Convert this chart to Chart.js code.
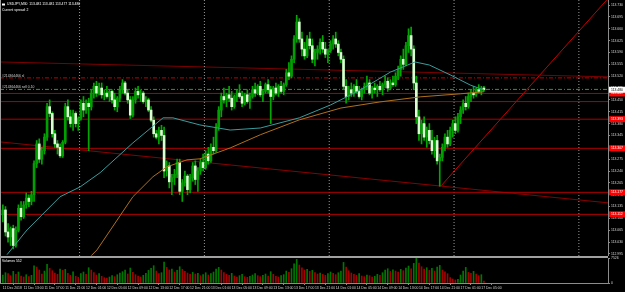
<!DOCTYPE html>
<html>
<head>
<meta charset="utf-8">
<script src="https://cdn.jsdelivr.net/npm/chart.js@4/dist/chart.umd.min.js"></script>
<style>
  body { margin: 0; background: #000; }
  #wrap { position: relative; width: 625px; height: 292px; background: #000; overflow: hidden; }
  canvas { position: absolute; left: 0; }
</style>
</head>
<body>
<div id="wrap">
  <canvas id="main" width="625" height="256" style="top:0"></canvas>
  <canvas id="vol" width="625" height="36" style="top:256px"></canvas>
</div>
<script>
// USDJPY M30, bars from 11 Dec 09:00 to 17 Dec 05:30
const opens = [
  113.110, 113.125, 113.060, 113.045, 113.070, 113.020, 113.065, 113.130, 113.105, 113.140,
  113.160, 113.150, 113.170, 113.262, 113.320, 113.275, 113.300, 113.340, 113.430, 113.410,
  113.350, 113.320, 113.310, 113.285, 113.325, 113.430, 113.400, 113.380, 113.410, 113.380,
  113.395, 113.440, 113.420, 113.440, 113.430, 113.470, 113.490, 113.470, 113.485, 113.465,
  113.470, 113.460, 113.475, 113.450, 113.430, 113.455, 113.480, 113.500, 113.470, 113.450,
  113.405, 113.450, 113.475, 113.465, 113.470, 113.445, 113.450, 113.420, 113.390, 113.350,
  113.340, 113.360, 113.345, 113.240, 113.255, 113.208, 113.220, 113.230, 113.265, 113.180,
  113.205, 113.225, 113.185, 113.220, 113.255, 113.215, 113.240, 113.265, 113.250, 113.290,
  113.270, 113.310, 113.300, 113.370, 113.420, 113.460, 113.450, 113.465, 113.455, 113.430,
  113.460, 113.470, 113.460, 113.440, 113.465, 113.445, 113.460, 113.480, 113.470, 113.490,
  113.465, 113.475, 113.495, 113.480, 113.460, 113.485, 113.470, 113.490, 113.475, 113.495,
  113.530, 113.520, 113.570, 113.630, 113.680, 113.630, 113.600, 113.580, 113.630, 113.610,
  113.570, 113.590, 113.600, 113.620, 113.600, 113.585, 113.595, 113.615, 113.630, 113.615,
  113.590, 113.570, 113.490, 113.460, 113.480, 113.470, 113.490, 113.475, 113.460, 113.480,
  113.490, 113.500, 113.470, 113.485, 113.480, 113.490, 113.480, 113.495, 113.505, 113.485,
  113.500, 113.495, 113.520, 113.540, 113.570, 113.555, 113.610, 113.640, 113.600, 113.500,
  113.400, 113.350, 113.380, 113.340, 113.360, 113.330, 113.300, 113.330, 113.270, 113.280,
  113.310, 113.340, 113.320, 113.360, 113.380, 113.360, 113.400, 113.420, 113.440, 113.430,
  113.460, 113.470, 113.465, 113.480, 113.475, 113.485
];
const highs = [
  113.140, 113.135, 113.085, 113.075, 113.080, 113.075, 113.140, 113.150, 113.150, 113.175,
  113.170, 113.180, 113.270, 113.330, 113.335, 113.310, 113.350, 113.440, 113.450, 113.415,
  113.360, 113.330, 113.320, 113.330, 113.440, 113.450, 113.420, 113.420, 113.415, 113.400,
  113.450, 113.460, 113.450, 113.455, 113.480, 113.500, 113.505, 113.500, 113.500, 113.480,
  113.490, 113.480, 113.480, 113.470, 113.460, 113.490, 113.510, 113.505, 113.480, 113.460,
  113.460, 113.485, 113.490, 113.480, 113.475, 113.460, 113.455, 113.430, 113.400, 113.360,
  113.370, 113.375, 113.370, 113.270, 113.265, 113.230, 113.245, 113.275, 113.275, 113.215,
  113.240, 113.230, 113.230, 113.265, 113.270, 113.250, 113.275, 113.290, 113.300, 113.310,
  113.320, 113.340, 113.380, 113.430, 113.470, 113.485, 113.470, 113.490, 113.475, 113.465,
  113.480, 113.495, 113.475, 113.470, 113.480, 113.470, 113.490, 113.500, 113.495, 113.505,
  113.480, 113.500, 113.510, 113.490, 113.490, 113.500, 113.495, 113.505, 113.500, 113.540,
  113.560, 113.580, 113.640, 113.700, 113.690, 113.650, 113.620, 113.640, 113.650, 113.630,
  113.600, 113.610, 113.630, 113.640, 113.620, 113.600, 113.625, 113.640, 113.650, 113.625,
  113.600, 113.580, 113.510, 113.490, 113.500, 113.495, 113.510, 113.490, 113.485, 113.500,
  113.520, 113.510, 113.490, 113.500, 113.495, 113.505, 113.500, 113.520, 113.515, 113.510,
  113.520, 113.530, 113.550, 113.580, 113.600, 113.620, 113.660, 113.665, 113.610, 113.520,
  113.420, 113.390, 113.400, 113.370, 113.380, 113.360, 113.340, 113.345, 113.290, 113.320,
  113.350, 113.360, 113.370, 113.390, 113.400, 113.410, 113.430, 113.450, 113.460, 113.470,
  113.480, 113.490, 113.485, 113.495, 113.490, 113.490
];
const lows = [
  113.090, 113.048, 113.030, 113.020, 113.010, 113.015, 113.060, 113.095, 113.100, 113.130,
  113.135, 113.140, 113.150, 113.250, 113.265, 113.260, 113.290, 113.330, 113.400, 113.340,
  113.310, 113.290, 113.280, 113.280, 113.320, 113.390, 113.370, 113.360, 113.370, 113.360,
  113.390, 113.400, 113.410, 113.300, 113.420, 113.455, 113.460, 113.465, 113.455, 113.450,
  113.455, 113.445, 113.440, 113.420, 113.415, 113.445, 113.470, 113.465, 113.440, 113.395,
  113.400, 113.440, 113.455, 113.445, 113.440, 113.430, 113.415, 113.385, 113.340, 113.335,
  113.320, 113.330, 113.220, 113.225, 113.190, 113.170, 113.200, 113.220, 113.170, 113.150,
  113.195, 113.170, 113.175, 113.210, 113.200, 113.180, 113.230, 113.240, 113.245, 113.260,
  113.265, 113.290, 113.295, 113.360, 113.400, 113.440, 113.430, 113.445, 113.420, 113.425,
  113.445, 113.455, 113.430, 113.435, 113.440, 113.425, 113.455, 113.460, 113.465, 113.460,
  113.445, 113.470, 113.470, 113.380, 113.450, 113.465, 113.460, 113.470, 113.465, 113.490,
  113.510, 113.515, 113.560, 113.620, 113.620, 113.580, 113.570, 113.575, 113.600, 113.560,
  113.550, 113.570, 113.585, 113.590, 113.575, 113.560, 113.590, 113.600, 113.605, 113.580,
  113.560, 113.480, 113.440, 113.450, 113.460, 113.460, 113.470, 113.455, 113.450, 113.470,
  113.480, 113.465, 113.455, 113.470, 113.460, 113.475, 113.465, 113.485, 113.475, 113.480,
  113.490, 113.490, 113.510, 113.520, 113.540, 113.550, 113.590, 113.580, 113.480, 113.380,
  113.330, 113.320, 113.330, 113.310, 113.320, 113.290, 113.280, 113.260, 113.195, 113.270,
  113.300, 113.310, 113.315, 113.340, 113.350, 113.355, 113.380, 113.410, 113.420, 113.425,
  113.445, 113.455, 113.460, 113.470, 113.465, 113.475
];
const closes = [
  113.125, 113.060, 113.045, 113.070, 113.020, 113.065, 113.130, 113.105, 113.140, 113.160,
  113.150, 113.170, 113.262, 113.320, 113.275, 113.300, 113.340, 113.430, 113.410, 113.350,
  113.320, 113.310, 113.285, 113.325, 113.430, 113.400, 113.380, 113.410, 113.380, 113.395,
  113.440, 113.420, 113.440, 113.430, 113.470, 113.490, 113.470, 113.485, 113.465, 113.470,
  113.460, 113.475, 113.450, 113.430, 113.455, 113.480, 113.500, 113.470, 113.450, 113.405,
  113.450, 113.475, 113.465, 113.470, 113.445, 113.450, 113.420, 113.390, 113.350, 113.340,
  113.360, 113.345, 113.240, 113.255, 113.208, 113.220, 113.230, 113.265, 113.180, 113.205,
  113.225, 113.185, 113.220, 113.255, 113.215, 113.240, 113.265, 113.250, 113.290, 113.270,
  113.310, 113.300, 113.370, 113.420, 113.460, 113.450, 113.465, 113.455, 113.430, 113.460,
  113.470, 113.460, 113.440, 113.465, 113.445, 113.460, 113.480, 113.470, 113.490, 113.465,
  113.475, 113.495, 113.480, 113.460, 113.485, 113.470, 113.490, 113.475, 113.495, 113.530,
  113.520, 113.570, 113.630, 113.680, 113.630, 113.600, 113.580, 113.630, 113.610, 113.570,
  113.590, 113.600, 113.620, 113.600, 113.585, 113.595, 113.615, 113.630, 113.615, 113.590,
  113.570, 113.490, 113.460, 113.480, 113.470, 113.490, 113.475, 113.460, 113.480, 113.490,
  113.500, 113.470, 113.485, 113.480, 113.490, 113.480, 113.495, 113.505, 113.485, 113.500,
  113.495, 113.520, 113.540, 113.570, 113.555, 113.610, 113.640, 113.600, 113.500, 113.400,
  113.350, 113.380, 113.340, 113.360, 113.330, 113.300, 113.330, 113.270, 113.280, 113.310,
  113.340, 113.320, 113.360, 113.380, 113.360, 113.400, 113.420, 113.440, 113.430, 113.460,
  113.470, 113.465, 113.480, 113.475, 113.485, 113.480
];
const volumes = [
  2400, 3100, 2800, 2200, 3500, 2600, 3300, 2100, 1800, 2500,
  1900, 2300, 5200, 4800, 3900, 2700, 3600, 5600, 4400, 3700,
  3000, 2600, 4200, 3800, 4100, 2900, 2300, 3400, 2000, 1700,
  2800, 3300, 2600, 4600, 3900, 3100, 2400, 2800, 2000, 1600,
  1500, 1800, 2200, 1900, 2500, 3000, 3400, 3900, 2700, 4500,
  3200, 2500, 2100, 1800, 2300, 2900, 3800, 4400, 5200, 3600,
  2800, 3100, 6300, 4700, 3900, 4200, 3300, 3800, 4900, 4100,
  3500, 3000, 2600, 3200, 2700, 2900, 2200, 2500, 3100, 2400,
  2800, 3300, 4200, 4700, 3900, 3100, 2600, 2300, 2900, 2100,
  1800, 2200, 2600, 1900, 1700, 2000, 2400, 2800, 2200, 1900,
  2300, 2700, 2100, 3400, 2600, 2000, 1800, 2200, 2500, 3600,
  3200, 4300, 5800, 7100, 5400, 4600, 3900, 4100, 3500, 3800,
  3100, 2700, 3000, 2600, 2300, 2800, 3300, 2900, 2500, 3100,
  3600, 6200, 4800, 3700, 3000, 2600, 2300, 2800, 2100, 1900,
  2400, 2200, 1800, 2000, 2600, 2300, 3100, 3900, 4300, 3500,
  4000, 3600, 3300, 4100, 3700, 4500, 5100, 4300, 5900, 7400,
  6000, 4900, 4200, 4600, 3800, 4400, 3600, 4800, 5300, 3900,
  3400, 2800, 1600, 1200, 900, 1100, 2400, 3600, 4700, 3200,
  2900, 3500, 2700, 2200, 2500, 552
];

// moving averages: [bar index, price]
const maFast = [
  [1.6, 112.993], [9.3, 113.066], [22, 113.164], [29.7, 113.193], [37.4, 113.235],
  [50, 113.323], [61.6, 113.397], [65.4, 113.397], [75.8, 113.376], [87.4, 113.361],
  [99, 113.367], [114, 113.397], [126, 113.435], [137.4, 113.479], [149, 113.532],
  [158.5, 113.562], [164, 113.553], [172, 113.524], [179.7, 113.494], [185, 113.479]
];
const maSlow = [
  [34, 112.990], [36.2, 113.007], [50, 113.164], [57.7, 113.223], [63, 113.252],
  [70.8, 113.273], [75.8, 113.276], [87.4, 113.308], [99, 113.347], [114, 113.391],
  [130, 113.426], [145, 113.444], [160.5, 113.459], [176, 113.468], [185, 113.474]
];

// horizontal levels
const levels = [113.469, 113.445, 113.393, 113.307, 113.177, 113.112];
const boxedLevels = [113.469, 113.393, 113.307, 113.177, 113.112];
const bidPrice = 113.480;
const slPrice = 113.515;
const openPrice = 113.481;

// trend lines: [[bar, price], [bar, price]]
const trendUpper = [[-1.1, 113.562], [232.7, 113.518]];
const trendLower = [[-1.1, 113.326], [232.7, 113.146]];
const trendSteep = [[168.5, 113.196], [232.2, 113.745]];

// day separators (bar index of day start)
const daySeparators = [29.5, 77.5, 125.5, 173.5, 221.5];

const priceTicks = [113.730, 113.695, 113.660, 113.625, 113.590, 113.555, 113.520, 113.485,
  113.450, 113.415, 113.380, 113.345, 113.310, 113.275, 113.240, 113.205, 113.170, 113.135,
  113.100, 113.065, 113.030, 112.995];
const timeTickBars = [0, 8, 16, 24, 32, 40, 48, 56, 64, 72, 80, 88, 96, 104, 112, 120, 128,
  136, 144, 152, 160, 168, 176, 184];
const timeLabels = ['11 Dec 2018', '11 Dec 13:00', '11 Dec 17:00', '11 Dec 21:00', '12 Dec 01:00',
  '12 Dec 05:00', '12 Dec 09:00', '12 Dec 13:00', '12 Dec 17:00', '12 Dec 21:00', '13 Dec 01:00',
  '13 Dec 05:00', '13 Dec 09:00', '13 Dec 13:00', '13 Dec 17:00', '13 Dec 21:00', '14 Dec 01:00',
  '14 Dec 05:00', '14 Dec 09:00', '14 Dec 13:00', '14 Dec 17:00', '14 Dec 21:00', '17 Dec 01:00',
  '17 Dec 05:00'];
const volMax = 7526;

const X_MIN = -1.1, X_MAX = 232.7;
const Y_MIN = 112.989, Y_MAX = 113.745;
const FONT = { family: 'Liberation Sans', size: 3.4 };
const AXIS_GRAY = '#8c8c8c';

const pts = pairs => pairs.map(p => ({ x: p[0], y: p[1] }));

function line(data, color, extra) {
  return Object.assign({
    type: 'line', data: data, borderColor: color, borderWidth: 1,
    pointRadius: 0, fill: false, order: 3
  }, extra || {});
}

const noPad = scale => {
  scale.paddingTop = 0; scale.paddingBottom = 0;
  scale.paddingLeft = 0; scale.paddingRight = 0;
};

const datasets = [];
levels.forEach(lv => datasets.push(line(pts([[X_MIN, lv], [X_MAX, lv]]), '#b00000')));
daySeparators.forEach(s => datasets.push(line(pts([[s, Y_MIN], [s, Y_MAX]]), '#9a9a9a', { borderDash: [1, 2] })));
datasets.push(line(pts([[X_MIN, slPrice], [X_MAX, slPrice]]), '#c00000', { borderDash: [4, 2, 1, 2] }));
datasets.push(line(pts([[X_MIN, openPrice], [X_MAX, openPrice]]), '#3f8f3f', { borderDash: [4, 2, 1, 2] }));
datasets.push(line(pts(trendUpper), '#7c0000'));
datasets.push(line(pts(trendLower), '#8a0000'));
datasets.push(line(pts(trendSteep), '#c80000'));

datasets.push({
  type: 'bar', grouped: false, order: 2, barThickness: 1,
  data: closes.map((c, i) => ({ x: i, y: [lows[i], highs[i]] })),
  backgroundColor: '#00a800'
});
datasets.push({
  type: 'bar', grouped: false, order: 1, barThickness: 2, minBarLength: 1,
  data: closes.map((c, i) => ({ x: i, y: [opens[i], c] })),
  backgroundColor: closes.map((c, i) => c >= opens[i] ? '#00a000' : '#d8ffd0')
});

datasets.push(line(pts(maFast), '#3a9c9c', { order: 0 }));
datasets.push(line(pts(maSlow), '#b0701c', { order: 0 }));

const mainDecor = {
  id: 'mainDecor',
  afterDraw(chart) {
    const { ctx, chartArea, scales } = chart;
    ctx.save();
    ctx.fillStyle = '#a0a0a0';
    ctx.fillRect(0, 0, 1, chartArea.bottom);
    // texts
    ctx.font = '3.4px "Liberation Sans"';
    ctx.textBaseline = 'middle';
    ctx.fillStyle = '#ffffff';
    ctx.fillRect(2, 3.5, 3, 2);
    ctx.fillText('USDJPY,M30  113.481 113.481 113.477 113.480', 7, 4.5);
    ctx.fillText('Current spread: 2', 2, 10.5);
    ctx.fillStyle = '#d0d0d0';
    ctx.fillText('#214364466 sl', 2, scales.y.getPixelForValue(slPrice) - 2);
    ctx.fillText('#214364466 sell 0.10', 2, scales.y.getPixelForValue(openPrice) - 2);
    // price boxes on the axis
    const x0 = chartArea.right + 1;
    boxedLevels.forEach(lv => {
      const y = scales.y.getPixelForValue(lv);
      ctx.fillStyle = '#ff0000';
      ctx.fillRect(x0, y - 3, 625 - x0, 6);
      ctx.fillStyle = '#ffffff';
      ctx.fillText(lv.toFixed(3), x0 + 2, y);
    });
    const yb = scales.y.getPixelForValue(bidPrice);
    ctx.fillStyle = '#ffffff';
    ctx.fillRect(x0, yb - 3, 625 - x0, 6);
    ctx.fillStyle = '#000000';
    ctx.fillText(bidPrice.toFixed(3), x0 + 2, yb);
    ctx.restore();
  }
};

new Chart(document.getElementById('main'), {
  type: 'bar',
  data: { datasets: datasets },
  options: {
    responsive: false, animation: false, events: [],
    layout: { padding: 0 },
    plugins: { legend: { display: false }, tooltip: { enabled: false } },
    scales: {
      x: { type: 'linear', min: X_MIN, max: X_MAX, offset: false, display: false },
      y: {
        type: 'linear', position: 'right', min: Y_MIN, max: Y_MAX,
        afterBuildTicks: s => { s.ticks = priceTicks.map(v => ({ value: v })); },
        afterFit: s => { s.width = 17; noPad(s); },
        border: { color: AXIS_GRAY },
        grid: { drawOnChartArea: false, tickLength: 2, color: AXIS_GRAY },
        ticks: { color: '#d8d8d8', font: FONT, padding: 1, callback: v => v.toFixed(3) }
      }
    }
  },
  plugins: [mainDecor]
});

const volDecor = {
  id: 'volDecor',
  afterDraw(chart) {
    const { ctx, chartArea } = chart;
    ctx.save();
    ctx.fillStyle = '#a0a0a0';
    ctx.fillRect(0, 0, chartArea.right, 2);
    ctx.fillRect(0, 0, 1, chartArea.bottom);
    ctx.font = '3.4px "Liberation Sans"';
    ctx.textBaseline = 'middle';
    ctx.fillStyle = '#ffffff';
    ctx.fillText('Volumes ' + volumes[volumes.length - 1], 2, 5);
    ctx.restore();
  }
};

new Chart(document.getElementById('vol'), {
  type: 'bar',
  data: {
    datasets: [{
      barThickness: 1,
      data: volumes.map((v, i) => ({ x: i, y: v })),
      backgroundColor: volumes.map((v, i) => (i === 0 || v >= volumes[i - 1]) ? '#007800' : '#a80000')
    }]
  },
  options: {
    responsive: false, animation: false, events: [],
    layout: { padding: { top: 2 } },
    plugins: { legend: { display: false }, tooltip: { enabled: false } },
    scales: {
      x: {
        type: 'linear', min: X_MIN, max: X_MAX, offset: false, position: 'bottom',
        afterBuildTicks: s => { s.ticks = timeTickBars.map(v => ({ value: v })); },
        afterFit: s => { s.height = 9; noPad(s); },
        border: { color: AXIS_GRAY },
        grid: { drawOnChartArea: false, tickLength: 2, color: AXIS_GRAY },
        ticks: {
          color: '#d8d8d8', font: FONT, padding: 1, align: 'start', maxRotation: 0, autoSkip: false,
          callback: v => timeLabels[timeTickBars.indexOf(v)]
        }
      },
      y: {
        type: 'linear', position: 'right', min: 0, max: volMax,
        afterBuildTicks: s => { s.ticks = [{ value: volMax }, { value: 0 }]; },
        afterFit: s => { s.width = 17; noPad(s); },
        border: { color: AXIS_GRAY },
        grid: { drawOnChartArea: false, tickLength: 2, color: AXIS_GRAY },
        ticks: { color: '#d8d8d8', font: FONT, padding: 1, callback: v => String(v) }
      }
    }
  },
  plugins: [volDecor]
});
</script>
</body>
</html>
